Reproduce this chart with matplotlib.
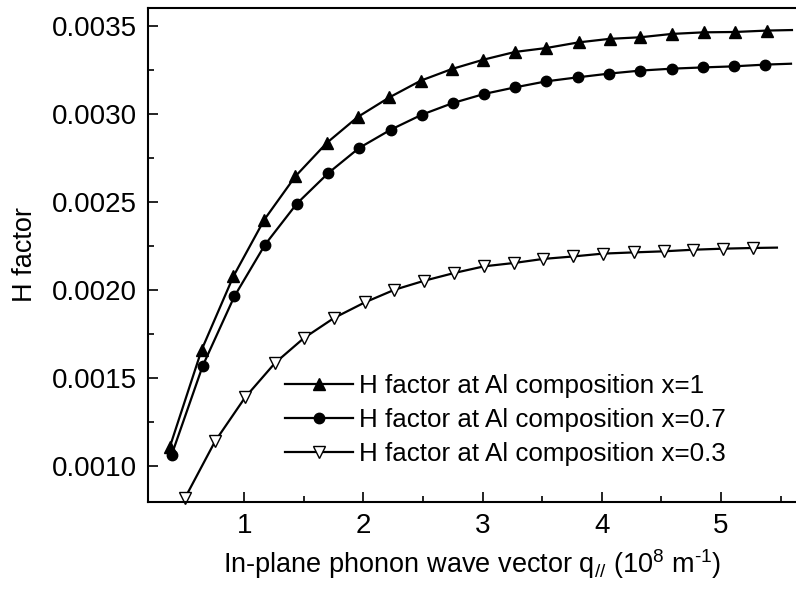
import matplotlib
matplotlib.use("Agg")
import matplotlib.pyplot as plt

plt.rcParams['font.family'] = ['Liberation Sans', 'DejaVu Sans']
plt.rcParams['mathtext.fontset'] = 'custom'
plt.rcParams['mathtext.rm'] = 'Liberation Sans'
plt.rcParams['mathtext.it'] = 'Liberation Sans:italic'

# In-plane phonon wave vector (10^8 m^-1) and H factor for each Al composition
q_x1 = [0.376, 0.642, 0.908, 1.168, 1.428, 1.692, 1.952, 2.217, 2.481, 2.742,
        3.007, 3.273, 3.534, 3.805, 4.065, 4.323, 4.589, 4.854, 5.120, 5.386, 5.596]
h_x1 = [0.001113, 0.001662, 0.002078, 0.002400, 0.002645, 0.002835, 0.002982,
        0.003093, 0.003188, 0.003254, 0.003307, 0.003351, 0.003373, 0.003405,
        0.003425, 0.003434, 0.003453, 0.003462, 0.003464, 0.003472, 0.003475]

q_x07 = [0.390, 0.651, 0.916, 1.174, 1.440, 1.705, 1.963, 2.229, 2.490, 2.750,
         3.015, 3.273, 3.533, 3.800, 4.062, 4.323, 4.589, 4.849, 5.106, 5.372, 5.588]
h_x07 = [0.001066, 0.001571, 0.001964, 0.002258, 0.002490, 0.002664, 0.002806,
         0.002910, 0.002995, 0.003061, 0.003113, 0.003150, 0.003184, 0.003207,
         0.003228, 0.003245, 0.003256, 0.003263, 0.003269, 0.003279, 0.003284]

q_x03 = [0.502, 0.754, 1.006, 1.258, 1.500, 1.753, 2.010, 2.260, 2.509, 2.761,
         3.013, 3.265, 3.510, 3.762, 4.009, 4.270, 4.520, 4.765, 5.017, 5.270, 5.470]
h_x03 = [0.000821, 0.001142, 0.001391, 0.001587, 0.001728, 0.001842, 0.001930,
         0.002002, 0.002053, 0.002097, 0.002135, 0.002154, 0.002177, 0.002191,
         0.002207, 0.002214, 0.002220, 0.002229, 0.002235, 0.002239, 0.002241]

labels = ["H factor at Al composition x=1",
          "H factor at Al composition x=0.7",
          "H factor at Al composition x=0.3"]

fig = plt.figure(figsize=(7.96, 5.89), dpi=100)
ax = fig.add_axes([148.3 / 796, 1 - 501.7 / 589, 1 - 148.3 / 796, (501.7 - 8) / 589])

lw = 1.6
marks = slice(0, -1)
ax.plot(q_x1, h_x1, color='black', lw=lw, marker='^', ms=8.5,
        mfc='black', mec='black', markevery=marks, label=labels[0], clip_on=False)
ax.plot(q_x07, h_x07, color='black', lw=lw, marker='o', ms=7.5,
        mfc='black', mec='black', markevery=marks, label=labels[1], clip_on=False)
ax.plot(q_x03, h_x03, color='black', lw=lw, marker='v', ms=8.5,
        mfc='white', mec='black', mew=1.0, markevery=marks, label=labels[2], clip_on=False)

ax.set_xlim(0.194, 5.63)
ax.set_ylim(0.0008, 0.0036)
ax.set_xticks([1, 2, 3, 4, 5])
ax.set_xticks([0.5, 1.5, 2.5, 3.5, 4.5, 5.5], minor=True)
ax.set_yticks([0.0010, 0.0015, 0.0020, 0.0025, 0.0030, 0.0035])
ax.set_yticklabels(["0.0010", "0.0015", "0.0020", "0.0025", "0.0030", "0.0035"])
ax.set_yticks([0.00125, 0.00175, 0.00225, 0.00275, 0.00325], minor=True)

ax.spines['right'].set_visible(False)
for s in ('left', 'bottom', 'top'):
    ax.spines[s].set_linewidth(1.5)
ax.tick_params(axis='both', which='major', direction='in', length=7.5, width=1.2,
               labelsize=20, pad=8)
ax.tick_params(axis='both', which='minor', direction='in', length=4.5, width=1.2)
ax.tick_params(axis='x', which='both', top=False)
ax.tick_params(axis='y', which='both', right=False)

ax.set_xlabel(r"In-plane phonon wave vector q$_{\mathit{//}}$ (10$^{8}$ m$^{\text{-1}}$)",
              fontsize=19.5, labelpad=6)
ax.set_ylabel("H factor", fontsize=19.5, labelpad=10)

leg = ax.legend(loc='upper left', bbox_to_anchor=(285 / 796, 1 - 374 / 589),
                bbox_transform=fig.transFigure, frameon=False, fontsize=18.7,
                borderpad=0, borderaxespad=0, handlelength=2.6, handletextpad=0.25,
                labelspacing=0.38)

fig.savefig("out.png", dpi=100)
